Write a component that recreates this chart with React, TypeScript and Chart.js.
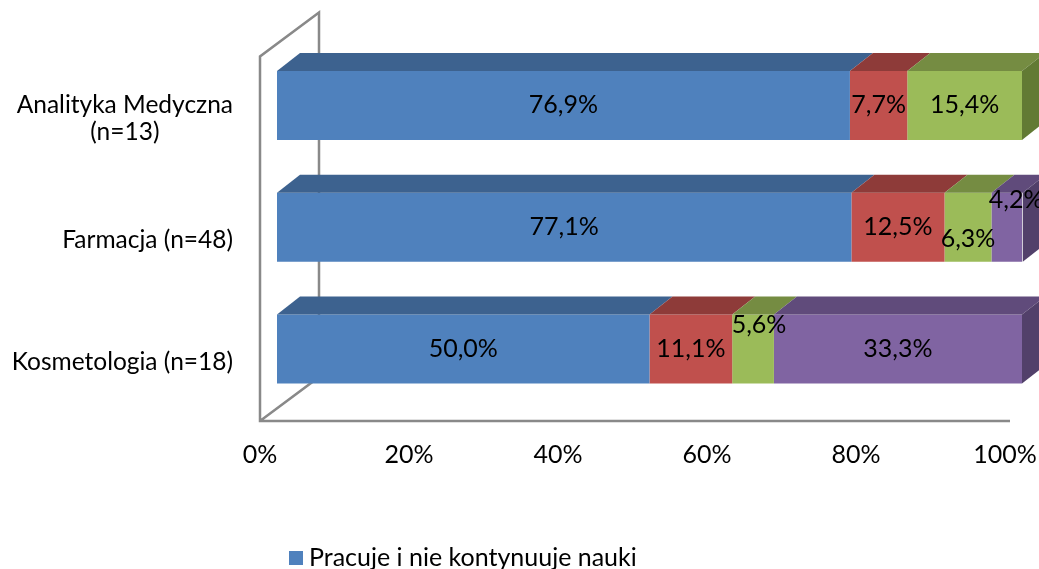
import React, { useEffect, useRef } from "react";
import { Chart, registerables } from "chart.js";

Chart.register(...registerables);

// ---- data ----
const categories: string[][] = [["Analityka Medyczna", "(n=13)"], ["Farmacja (n=48)"], ["Kosmetologia (n=18)"]];
const seriesNames = [
  "Pracuje i nie kontynuuje nauki",
  "Pracuje i kontynuuje naukę",
  "Nie pracuje i kontynuuje naukę",
  "Nie pracuje i nie kontynuuje nauki",
];
const workingNotStudying = [76.9, 77.1, 50.0];
const workingStudying = [7.7, 12.5, 11.1];
const notWorkingStudying = [15.4, 6.3, 5.6];
const notWorkingNotStudying = [0, 4.2, 33.3];
const xTickValues = [0, 20, 40, 60, 80, 100];

// ---- style ----
const FONT = "Lato, 'Noto Sans', sans-serif";
const FS = 25;
const frontColors = ["#4F81BD", "#C0504D", "#9BBB59", "#8064A2"];
const topColors = ["#3D628F", "#8E3B39", "#758C42", "#604B7B"];
const sideColors = ["#34547A", "#7A3230", "#627A34", "#52406A"];
const DEPTH_X = 23;
const DEPTH_Y = 18;
const labelNudge: Record<string, [number, number]> = {
  "3-1": [9, -27],
  "2-1": [0, 12],
  "2-2": [6, -24],
};

const wallPlugin = {
  id: "walls3d",
  beforeDatasetsDraw(chart: any) {
    const { ctx, chartArea, scales } = chart;
    const xs = scales.x;
    const x0 = xs.getPixelForValue(0) - 17;
    const xEnd = xs.getPixelForValue(100) - 12;
    const yb = chartArea.bottom + 11;
    const yt = chartArea.top + 12;
    ctx.save();
    ctx.strokeStyle = "#898989";
    ctx.lineWidth = 2.5;
    ctx.beginPath();
    ctx.moveTo(xEnd, yb);
    ctx.lineTo(x0, yb);
    ctx.lineTo(x0, yt);
    ctx.lineTo(x0 + 59, yt - 44);
    ctx.lineTo(x0 + 59, yb - 44);
    ctx.lineTo(x0, yb);
    ctx.stroke();
    ctx.restore();
  },
};

const bar3dPlugin = {
  id: "bars3d",
  afterDatasetsDraw(chart: any) {
    const { ctx } = chart;
    const n = chart.data.labels.length;
    ctx.save();
    for (let i = 0; i < n; i++) {
      let lastDs = -1;
      let lastX = -Infinity;
      chart.data.datasets.forEach((ds: any, d: number) => {
        const el = chart.getDatasetMeta(d).data[i];
        if (!el || !ds.data[i]) return;
        const h = el.height;
        const yTop = el.y - h / 2;
        const xl = Math.min(el.base, el.x);
        const xr = Math.max(el.base, el.x);
        ctx.fillStyle = topColors[d];
        ctx.beginPath();
        ctx.moveTo(xl, yTop);
        ctx.lineTo(xr, yTop);
        ctx.lineTo(xr + DEPTH_X, yTop - DEPTH_Y);
        ctx.lineTo(xl + DEPTH_X, yTop - DEPTH_Y);
        ctx.closePath();
        ctx.fill();
        if (xr > lastX) {
          lastX = xr;
          lastDs = d;
        }
      });
      if (lastDs >= 0) {
        const el = chart.getDatasetMeta(lastDs).data[i];
        const h = el.height;
        const yTop = el.y - h / 2;
        const yBot = el.y + h / 2;
        ctx.fillStyle = sideColors[lastDs];
        ctx.beginPath();
        ctx.moveTo(lastX, yTop);
        ctx.lineTo(lastX + DEPTH_X, yTop - DEPTH_Y);
        ctx.lineTo(lastX + DEPTH_X, yBot - DEPTH_Y);
        ctx.lineTo(lastX, yBot);
        ctx.closePath();
        ctx.fill();
      }
    }
    // value labels
    ctx.fillStyle = "#000";
    ctx.font = `${FS}px ${FONT}`;
    ctx.textAlign = "center";
    ctx.textBaseline = "middle";
    chart.data.datasets.forEach((ds: any, d: number) => {
      chart.getDatasetMeta(d).data.forEach((el: any, i: number) => {
        const v = ds.data[i];
        if (!v) return;
        const nudge = labelNudge[`${d}-${i}`] || [0, 0];
        const cx = (el.x + el.base) / 2 + nudge[0];
        const cy = el.y + nudge[1];
        ctx.fillText(v.toFixed(1).replace(".", ",") + "%", cx, cy);
      });
    });
    ctx.restore();
  },
  afterDraw(chart: any) {
    const { ctx, scales } = chart;
    const ys = scales.y;
    ctx.save();
    ctx.fillStyle = "#000";
    ctx.font = `${FS - 0.5}px ${FONT}`;
    ctx.textBaseline = "middle";
    ctx.textAlign = "center";
    const rightEdge = 233;
    const lineH = 27;
    categories.forEach((lines, i) => {
      const w = Math.max(...lines.map((l) => ctx.measureText(l).width));
      const cx = rightEdge - w / 2;
      const cy = ys.getPixelForValue(i) + 13;
      const start = cy - ((lines.length - 1) * lineH) / 2;
      lines.forEach((l, k) => ctx.fillText(l, cx, start + k * lineH));
    });
    // legend (one column, bottom; only the first row falls inside the picture)
    ctx.font = `${FS}px ${FONT}`;
    ctx.textAlign = "left";
    ctx.textBaseline = "alphabetic";
    seriesNames.forEach((name, k) => {
      const base = 566 + k * 30;
      ctx.fillStyle = frontColors[k];
      ctx.fillRect(289, base - 15, 14, 14);
      ctx.fillStyle = "#000";
      ctx.fillText(name, 309, base);
    });
    ctx.restore();
  },
};

export default function App() {
  const ref = useRef<HTMLCanvasElement>(null);
  useEffect(() => {
    if (!ref.current) return;
    const seriesData = [workingNotStudying, workingStudying, notWorkingStudying, notWorkingNotStudying];
    const chart = new Chart(ref.current, {
      type: "bar",
      data: {
        labels: categories.map((c) => c.join(" ")),
        datasets: seriesData.map((data, d) => ({
          label: seriesNames[d],
          data,
          backgroundColor: frontColors[d],
          borderWidth: 0,
          categoryPercentage: 1,
          barPercentage: 0.566,
        })),
      },
      options: {
        indexAxis: "y",
        animation: false,
        responsive: false,
        layout: { padding: { left: 277, right: 17, top: 44.5, bottom: 99 } },
        plugins: { legend: { display: false }, tooltip: { enabled: false } },
        scales: {
          x: {
            stacked: true,
            min: 0,
            max: 100,
            afterBuildTicks: (axis: any) => {
              axis.ticks = xTickValues.map((v) => ({ value: v }));
            },
            afterFit: (axis: any) => {
              axis.height = 60;
              axis.paddingLeft = 0;
              axis.paddingRight = 0;
            },
            grid: { display: false, drawTicks: false },
            border: { display: false },
            ticks: {
              color: "#000",
              font: { family: FONT, size: FS },
              padding: 30,
              labelOffset: -17,
              maxRotation: 0,
              callback: (v: any) => `${v}%`,
            },
          },
          y: { stacked: true, display: false },
        },
      },
      plugins: [wallPlugin, bar3dPlugin],
    });
    return () => chart.destroy();
  }, []);
  return (
    <div style={{ position: "fixed", left: 0, top: 0, width: 1039, height: 569, overflow: "hidden", background: "#fff" }}>
      <canvas ref={ref} width={1039} height={569} style={{ display: "block" }} />
    </div>
  );
}
